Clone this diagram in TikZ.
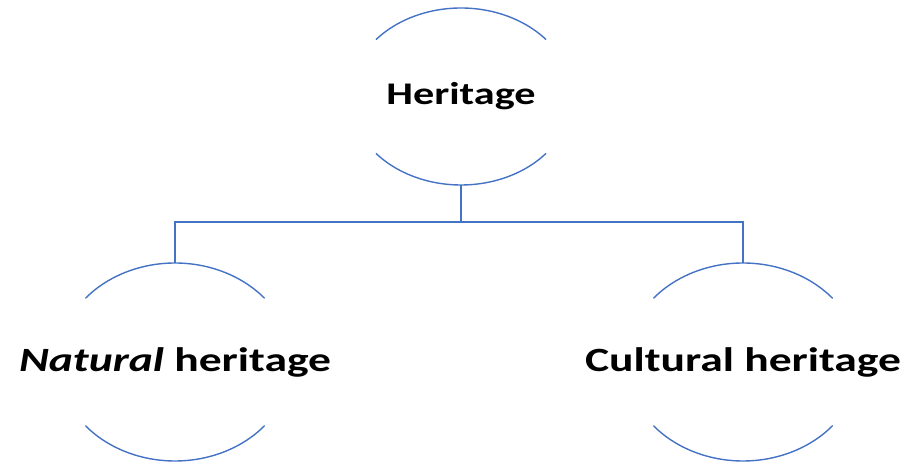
\documentclass[tikz,border=0pt]{standalone}
\usepackage{fontspec}
\newfontfamily\calib[FakeStretch=1.34]{Carlito}
\usetikzlibrary{shapes.geometric,positioning}
\definecolor{officeblue}{HTML}{4472C4}
\begin{document}
\begin{tikzpicture}[x=1pt,y=1pt,
	term/.style={ellipse,inner sep=0pt},
	rim/.style={draw=officeblue,line width=1.4pt},
	link/.style={draw=officeblue,line width=1.4pt}]
	\useasboundingbox (0,0) rectangle (915,462);
	\def\cut{40}
	% upper and lower piece of an oval round a node
	\def\oval#1#2#3{
		\draw[rim] ([shift={(\cut:#2 and #3)}]#1.center) arc[start angle=\cut,end angle=180-\cut,x radius=#2,y radius=#3];
		\draw[rim] ([shift={(180+\cut:#2 and #3)}]#1.center) arc[start angle=180+\cut,end angle=360-\cut,x radius=#2,y radius=#3];
	}
	\node[term,minimum width=222pt,minimum height=177pt,font=\calib\bfseries\fontsize{31.5}{36}\selectfont] (heritage) at (461,365.5) {Heritage};
	\node[term,minimum width=234pt,minimum height=198pt,font=\calib\bfseries\fontsize{34}{40}\selectfont] (natural) at (175,100) {\textit{Natural} heritage};
	\node[term,minimum width=234pt,minimum height=198pt,font=\calib\bfseries\fontsize{34}{40}\selectfont] (cultural) at (743,100) {Cultural heritage};
	\oval{heritage}{111}{88.5}
	\oval{natural}{117}{99}
	\oval{cultural}{117}{99}
	\draw[link] (heritage.south) -- ++(0,-37) coordinate (bus);
	\draw[link] (natural.north) |- (bus) -| (cultural.north);
\end{tikzpicture}
\end{document}
